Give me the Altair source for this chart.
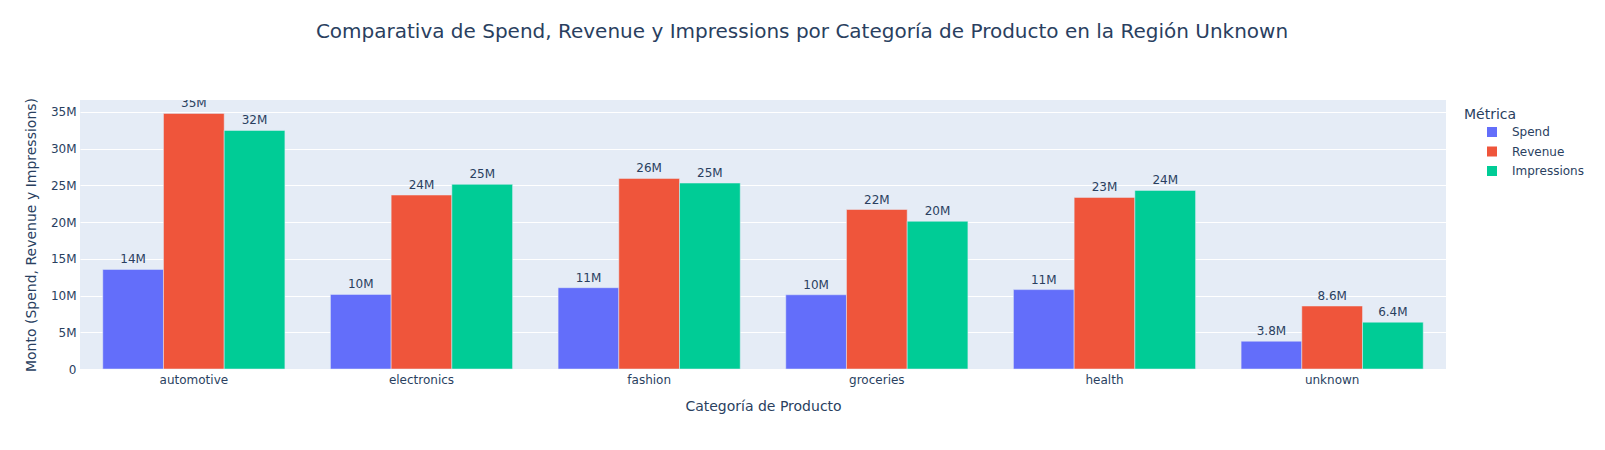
import altair as alt
import pandas as pd

categorias = ["automotive", "electronics", "fashion", "groceries", "health", "unknown"]
metricas = ["Spend", "Revenue", "Impressions"]
spend = [13.55e6, 10.15e6, 11.06e6, 10.1e6, 10.8e6, 3.78e6]
revenue = [34.78e6, 23.67e6, 25.93e6, 21.7e6, 23.35e6, 8.57e6]
impressions = [32.46e6, 25.12e6, 25.3e6, 20.1e6, 24.3e6, 6.37e6]
colores = ["#636EFA", "#EF553B", "#00CC96"]
y_ticks = [0, 5e6, 10e6, 15e6, 20e6, 25e6, 30e6, 35e6]

rows = []
for serie, vals in zip(metricas, [spend, revenue, impressions]):
    for c, v in zip(categorias, vals):
        rows.append({"categoria": c, "metrica": serie, "valor": v})
df = pd.DataFrame(rows)

FONT = "DejaVu Sans"
TXT = "#2a3f5f"

base = alt.Chart(df).encode(
    x=alt.X(
        "categoria:N",
        sort=categorias,
        title="Categoría de Producto",
        scale=alt.Scale(paddingInner=0.2, paddingOuter=0.1),
        axis=alt.Axis(
            labelAngle=0, ticks=False, domain=False, grid=False,
            labelFontSize=12, labelColor=TXT, labelFont=FONT, labelPadding=5,
            titleFontSize=14, titleColor=TXT, titleFont=FONT, titleFontWeight="normal",
            titleY=37, titleBaseline="middle",
        ),
    ),
    xOffset=alt.XOffset("metrica:N", sort=metricas, scale=alt.Scale(paddingInner=0, paddingOuter=0)),
    y=alt.Y(
        "valor:Q",
        title="Monto (Spend, Revenue y Impressions)",
        scale=alt.Scale(domain=[0, 36.6e6], nice=False),
        axis=alt.Axis(
            values=y_ticks, ticks=False, domain=False,
            labelExpr="datum.value == 0 ? '0' : format(datum.value, '~s')",
            gridColor="white", gridWidth=1,
            labelFontSize=12, labelColor=TXT, labelFont=FONT, labelPadding=4,
            titleFontSize=14, titleColor=TXT, titleFont=FONT, titleFontWeight="normal",
            titleX=-49, titleY=134.5, titleAlign="center", titleBaseline="middle",
        ),
    ),
)

bars = base.mark_bar(stroke="#E5ECF6", strokeWidth=0.5).encode(
    color=alt.Color(
        "metrica:N",
        sort=metricas,
        scale=alt.Scale(domain=metricas, range=colores),
        legend=alt.Legend(
            title="Métrica", orient="none", legendX=1384, legendY=8,
            symbolType="square", symbolSize=100, symbolStrokeWidth=0,
            symbolOffset=22, labelOffset=14, rowPadding=7.5, titlePadding=4,
            labelFontSize=12, labelColor=TXT, labelFont=FONT,
            titleFontSize=14, titleColor=TXT, titleFont=FONT, titleFontWeight="normal",
        ),
    )
)

labels = base.mark_text(
    baseline="bottom", dy=-3, fontSize=12, color=TXT, font=FONT, clip=True
).encode(text=alt.Text("valor:Q", format=".2s"))

chart = (
    alt.layer(bars, labels)
    .properties(
        width=1366,
        height=269,
        autosize=alt.AutoSizeParams(type="none"),
        padding={"left": 72, "top": 92, "right": 150, "bottom": 73},
        title=alt.TitleParams(
            "Comparativa de Spend, Revenue y Impressions por Categoría de Producto en la Región Unknown",
            fontSize=20, color=TXT, font=FONT, fontWeight="normal",
            anchor="middle", dx=39, offset=55,
        ),
        background="white",
    )
    .configure_view(stroke=None, fill="#E5ECF6")
)

chart.save("out.html", embed_options={"renderer": "svg", "actions": False})
